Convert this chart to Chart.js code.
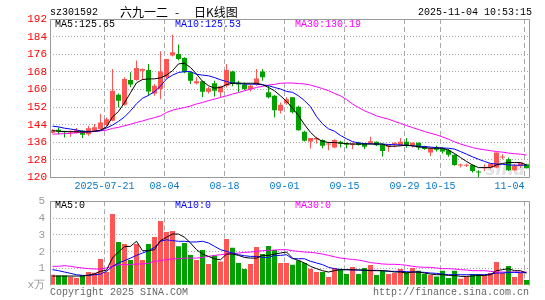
<!DOCTYPE html>
<html>
<head>
<meta charset="utf-8">
<script src="https://cdn.jsdelivr.net/npm/chart.js@4.4.1/dist/chart.umd.min.js"></script>
<style>
  html, body { margin: 0; padding: 0; background: #fff; }
  #wrap { position: relative; width: 545px; height: 300px; overflow: hidden; }
  canvas { position: absolute; left: 0; }
  #kline { top: 0; }
  #vol { top: 195px; }
</style>
</head>
<body>
<div id="wrap">
  <canvas id="kline" width="545" height="195"></canvas>
  <canvas id="vol" width="545" height="105"></canvas>
</div>
<script>
// sz301592 daily candles, 80 trading days ending 2025-11-04
const opens = [140.3,141.7,140.9,140.5,140.2,141.2,139.7,141.2,142.0,143.8,
  145.8,157.6,153.0,164.3,164.3,168.5,168.8,158.2,160.2,165.5,
  175.4,176.1,174.3,167.8,162.8,163.7,159.0,162.8,158.7,161.7,
  168.2,163.2,162.2,160.2,162.2,168.2,158.7,157.1,150.3,153.7,
  156.4,152.1,140.8,136.4,137.3,137.0,135.0,133.6,136.2,135.5,
  134.8,135.9,135.5,135.5,136.2,135.0,134.0,135.2,134.7,136.2,
  134.4,135.8,133.6,131.4,133.6,133.3,132.4,130.3,125.5,125.3,
  125.7,122.7,124.2,124.5,124.5,129.1,128.3,123.3,125.3,126.0];
const highs = [142.0,142.8,141.2,141.4,142.5,141.5,143.5,144.3,148.8,147.3,
  169.3,158.2,165.5,167.8,173.1,169.5,171.6,162.5,177.3,174.0,
  184.9,180.4,174.6,168.2,165.5,164.0,161.2,164.0,161.7,171.6,
  168.5,164.0,163.2,162.2,169.3,169.3,161.7,157.5,154.1,156.4,
  156.4,152.6,141.2,137.9,138.5,137.4,136.2,137.4,136.7,135.9,
  135.9,136.2,135.6,138.5,136.4,135.5,134.9,136.0,138.0,138.0,
  135.9,135.9,134.4,133.6,134.4,133.6,132.9,130.6,126.3,126.3,
  126.0,123.3,126.0,126.6,131.4,130.6,129.1,126.3,126.8,126.3];
const lows = [140.0,139.5,138.2,138.5,140.0,138.0,139.0,141.0,141.8,143.5,
  145.5,151.8,152.6,161.0,164.0,164.3,157.1,157.1,155.6,165.0,
  175.0,173.1,167.3,162.5,162.2,156.4,158.2,156.8,156.4,160.9,
  161.5,158.7,159.7,159.1,161.7,164.0,155.9,147.3,149.1,153.0,
  149.1,141.2,136.4,133.2,135.5,133.3,132.4,133.3,133.6,133.3,
  132.8,134.4,132.9,135.3,134.3,129.5,131.7,133.7,134.5,133.5,
  133.6,132.6,132.6,129.8,131.8,130.9,129.4,125.3,124.5,124.8,
  122.3,120.0,123.0,124.0,124.2,128.3,123.0,123.0,124.3,124.2];
const closes = [141.5,140.9,140.6,141.1,141.5,139.4,142.4,142.8,145.0,146.5,
  159.4,154.9,164.7,162.2,169.7,169.3,159.1,161.7,168.1,173.8,
  176.9,173.8,167.8,164.0,163.7,159.0,160.5,159.4,161.4,168.8,
  162.5,162.2,160.2,161.7,165.0,165.5,156.4,150.6,153.0,155.6,
  149.6,141.5,136.7,137.9,137.9,134.4,135.4,137.0,135.5,134.9,
  135.5,134.8,134.0,136.5,134.7,132.0,134.7,135.5,136.2,134.4,
  135.8,133.6,132.9,133.3,132.6,131.8,130.3,125.7,125.8,125.6,
  123.0,122.3,124.8,126.3,131.4,129.4,123.3,125.3,126.8,124.2];

// moving averages as shown on the picture
const ma5 = [141.3,141.0,140.9,140.8,140.8,140.7,140.7,141.0,141.5,143.0,
  147.5,150.0,154.0,158.5,163.0,164.5,164.8,164.8,165.3,166.5,
  168.5,171.6,171.9,170.0,167.0,163.7,161.7,160.6,160.9,162.2,
  162.8,162.8,162.8,162.8,162.8,162.2,160.9,159.4,157.1,154.6,
  151.5,148.1,144.0,140.5,137.9,136.4,135.9,135.9,135.6,135.4,
  135.2,135.2,135.2,135.2,135.2,135.2,134.2,134.2,134.4,134.7,
  134.4,133.9,133.6,133.3,133.3,133.3,132.4,130.9,129.1,127.3,
  125.7,124.5,124.5,124.5,125.7,126.4,126.8,126.8,126.8,125.65];
const ma10 = [143.3,143.0,142.4,142.0,141.6,141.0,140.9,141.0,141.3,142.5,
  143.8,145.5,147.5,150.3,153.5,156.0,157.3,159.0,161.5,164.8,
  166.5,167.7,168.1,168.1,166.9,166.5,166.2,165.4,164.4,163.6,
  162.9,162.8,162.4,162.4,162.4,162.1,161.7,160.9,160.2,159.1,
  158.7,157.1,154.9,152.2,147.7,144.4,142.1,141.0,139.1,137.6,
  136.3,135.7,135.4,135.3,135.2,135.2,135.0,134.9,134.8,134.6,
  134.4,134.2,134.1,133.8,133.6,133.4,133.3,132.9,131.8,130.6,
  129.4,128.3,127.3,126.4,126.1,126.0,125.7,125.6,125.6,125.53];
const ma30 = [139.7,139.8,139.9,140.1,140.3,140.5,140.7,140.9,141.2,141.5,
  142.3,142.8,143.5,144.2,145.0,145.7,146.5,147.2,148.0,149.5,
  150.6,151.2,151.8,152.5,153.4,154.1,154.9,155.6,156.4,157.1,
  157.9,158.6,159.4,160.1,160.9,161.4,162.0,162.3,162.8,162.9,
  162.9,162.7,162.5,162.0,161.2,160.4,159.4,158.2,157.1,155.4,
  153.4,151.8,150.3,149.2,148.0,147.2,146.5,145.5,144.6,143.6,
  142.7,141.8,140.9,140.1,139.4,138.4,137.4,136.2,135.2,134.4,
  133.6,133.0,132.6,132.2,131.8,131.5,131.1,130.8,130.6,130.19];

// volume (万手)
const volumes = [0.63,0.59,0.59,0.51,0.43,0.59,0.79,0.75,1.57,0.79,
  4.24,2.58,2.46,1.51,2.46,1.51,2.46,2.87,3.83,3.17,
  3.23,2.32,2.52,1.80,1.51,2.10,1.27,1.78,1.41,2.75,
  2.24,1.33,0.97,1.27,2.28,1.86,2.34,2.10,1.33,1.33,
  1.23,1.47,1.33,0.99,0.79,0.79,0.49,1.03,0.99,0.67,
  1.09,0.67,1.03,1.21,0.61,0.85,0.67,0.73,0.97,0.79,
  1.03,0.87,0.67,0.61,0.53,0.87,0.43,0.87,0.39,0.53,
  0.67,0.67,0.63,0.73,1.39,0.73,1.15,0.49,0.73,0.32];
const vma5 = [0.55,0.55,0.55,0.55,0.55,0.55,0.60,0.68,0.83,0.90,
  1.63,1.99,2.30,2.32,2.62,2.06,2.06,2.12,2.66,2.86,
  3.05,3.05,2.86,2.52,2.12,1.86,1.72,1.58,1.52,1.86,
  1.86,1.78,1.66,1.62,1.62,1.78,1.78,1.86,1.92,1.98,
  1.62,1.47,1.33,1.13,0.99,0.87,0.79,0.87,0.93,0.93,
  0.93,0.91,0.91,0.87,0.87,0.87,0.85,0.79,0.79,0.73,
  0.79,0.79,0.73,0.67,0.63,0.63,0.59,0.59,0.53,0.53,
  0.55,0.59,0.59,0.63,0.87,0.93,0.99,0.87,0.87,0.73];
const vma10 = [0.93,0.87,0.79,0.71,0.63,0.59,0.59,0.63,0.67,0.83,
  1.13,1.33,1.47,1.62,1.78,1.92,2.06,2.26,2.62,2.71,
  2.66,2.62,2.62,2.58,2.58,2.62,2.52,2.32,2.12,2.02,
  1.92,1.82,1.76,1.72,1.72,1.66,1.66,1.78,1.78,1.82,
  1.58,1.58,1.58,1.43,1.33,1.23,1.07,0.99,0.93,0.93,
  0.91,0.91,0.89,0.89,0.89,0.87,0.83,0.83,0.83,0.81,
  0.79,0.79,0.77,0.73,0.71,0.67,0.63,0.63,0.63,0.63,
  0.63,0.63,0.63,0.67,0.73,0.73,0.77,0.77,0.75,0.75];
const vma30 = [1.13,1.13,1.17,1.13,1.07,1.03,0.99,0.97,0.97,1.03,
  1.13,1.23,1.23,1.23,1.27,1.27,1.31,1.43,1.47,1.53,
  1.57,1.58,1.62,1.62,1.62,1.66,1.72,1.78,1.82,1.86,
  1.90,1.92,1.96,1.98,2.02,2.06,2.08,2.10,2.12,2.12,
  2.06,2.02,1.98,1.96,1.92,1.86,1.78,1.70,1.62,1.58,
  1.54,1.50,1.43,1.35,1.31,1.27,1.25,1.25,1.23,1.19,
  1.13,1.09,1.07,1.07,1.03,0.99,0.99,0.97,0.93,0.91,
  0.87,0.87,0.87,0.83,0.79,0.79,0.79,0.79,0.79,0.79];

// x ticks: candle index -> date label
const dateTickIdx = [9, 19, 29, 39, 49, 59, 65, 79];
const dateTickLabels = ['2025-07-21','08-04','08-18','09-01','09-15','09-29','10-15','11-04'];
const priceTicks = [120,128,136,144,152,160,168,176,184,192];
const volTicks = [0,1,2,3,4,5];

const RED = '#FF5555', GREEN = '#00A000', GRID = '#A8A8A8';
const MONO = '"Liberation Mono", "DejaVu Sans Mono", monospace';
const idx = closes.map((_, i) => i);
const candleColor = idx.map(i => closes[i] >= opens[i] ? RED : GREEN);
const pts = arr => arr.map((v, i) => ({ x: i, y: v }));

function dateAxis(showLabels, height) {
  return {
    type: 'linear', min: -0.4167, max: 79.4167, offset: false,
    afterBuildTicks: s => { s.ticks = dateTickIdx.map(v => ({ value: v - 0.33 })); },
    afterFit: s => { s.height = height; s.paddingLeft = 0; s.paddingRight = 0; },
    grid: { color: GRID, drawTicks: false, offset: false },
    border: { display: false, dash: [5, 3] },
    ticks: {
      display: showLabels, autoSkip: false, maxRotation: 0, padding: 3,
      color: '#0A78C8', font: { family: MONO, size: 10 },
      // last label sits flush against the right edge
      callback: (v, i) => i === dateTickLabels.length - 1 ? dateTickLabels[i] + '     ' : dateTickLabels[i]
    }
  };
}

function maLine(data, color) {
  return { type: 'line', data: pts(data), borderColor: color, borderWidth: 1,
           pointRadius: 0, tension: 0, order: 0 };
}

// frame + free texts
const framePlugin = {
  id: 'frame',
  beforeDraw(chart) {
    const c = chart.ctx;
    c.save(); c.fillStyle = '#fff'; c.fillRect(0, 0, chart.width, chart.height); c.restore();
  },
  beforeDatasetsDraw(chart, args, opts) {
    if (!opts.watermark) return;
    const c = chart.ctx;
    c.save();
    c.font = 'italic bold 17px "DejaVu Sans"';
    c.fillStyle = 'rgba(170,170,170,0.35)';
    c.textAlign = 'right'; c.textBaseline = 'alphabetic';
    c.fillText('sina', chart.chartArea.right - 4, chart.chartArea.bottom - 3);
    c.restore();
  },
  afterDatasetsDraw(chart, args, opts) {
    const { left, right, top, bottom } = chart.chartArea;
    const c = chart.ctx;
    const x0 = Math.floor(left) + 0.5, x1 = Math.floor(right) + 0.5;
    const y0 = Math.floor(top) + 0.5, y1 = Math.floor(bottom) + 0.5;
    c.save();
    c.strokeStyle = '#999'; c.lineWidth = 1;
    c.beginPath();
    c.moveTo(x0, y1); c.lineTo(x0, y0); c.lineTo(x1, y0); c.lineTo(x1, y1);
    if (opts.bottom) { c.moveTo(x0, y1); c.lineTo(x1, y1); }
    c.stroke();
    (opts.texts || []).forEach(t => {
      c.font = t.font || ('10px ' + MONO);
      c.fillStyle = t.color || '#000';
      c.textAlign = t.align || 'left';
      c.textBaseline = 'middle';
      c.fillText(t.text, t.x, t.y);
    });
    c.restore();
  }
};

const baseOptions = {
  responsive: false, animation: false, events: [],
  plugins: { legend: { display: false }, tooltip: { enabled: false } }
};

// ---- price chart ----
new Chart(document.getElementById('kline').getContext('2d'), {
  type: 'bar',
  data: {
    datasets: [
      maLine(ma5, '#000000'),
      maLine(ma10, '#0000FF'),
      maLine(ma30, '#FF00FF'),
      { data: idx.map(i => ({ x: i, y: [opens[i], closes[i]] })), backgroundColor: candleColor,
        barThickness: 5, minBarLength: 1, grouped: false, inflateAmount: 0, order: 1 },
      { data: idx.map(i => ({ x: i, y: [lows[i], highs[i]] })), backgroundColor: candleColor,
        barThickness: 1, grouped: false, inflateAmount: 0, order: 2 }
    ]
  },
  options: {
    ...baseOptions,
    layout: { padding: { top: 19, right: 16, left: 0, bottom: 0 } },
    scales: {
      x: dateAxis(true, 17.5),
      y: {
        min: 120, max: 192,
        afterBuildTicks: s => { s.ticks = priceTicks.map(v => ({ value: v })); },
        afterFit: s => { s.width = 50; s.paddingTop = 0; s.paddingBottom = 0; },
        grid: { color: GRID, drawTicks: false },
        border: { display: false, dash: [1, 2] },
        ticks: { color: '#FF0000', padding: 3, font: { family: MONO, size: 11 } }
      }
    },
    plugins: {
      ...baseOptions.plugins,
      frame: {
        bottom: true, watermark: true,
        texts: [
          { text: 'sz301592', x: 50, y: 12 },
          { text: '六九一二', x: 120, y: 12, font: '12px "Noto Sans CJK SC"' },
          { text: '-', x: 175, y: 12, font: '12px "Noto Sans CJK SC"' },
          { text: '日K线图', x: 194, y: 12, font: '12px "Noto Sans CJK SC"' },
          { text: '2025-11-04 10:53:15', x: 532, y: 12, align: 'right' },
          { text: 'MA5:' + ma5[ma5.length - 1].toFixed(2), x: 55, y: 24, color: '#000000' },
          { text: 'MA10:' + ma10[ma10.length - 1].toFixed(2), x: 175, y: 24, color: '#0000FF' },
          { text: 'MA30:' + ma30[ma30.length - 1].toFixed(2), x: 295, y: 24, color: '#FF00FF' }
        ]
      }
    }
  },
  plugins: [framePlugin]
});

// ---- volume chart ----
new Chart(document.getElementById('vol').getContext('2d'), {
  type: 'bar',
  data: {
    datasets: [
      maLine(vma5, '#000000'),
      maLine(vma10, '#0000FF'),
      maLine(vma30, '#FF00FF'),
      { data: pts(volumes), backgroundColor: candleColor, barThickness: 5,
        grouped: false, inflateAmount: 0, order: 1 }
    ]
  },
  options: {
    ...baseOptions,
    layout: { padding: { top: 6.3, right: 16, left: 0, bottom: 0 } },
    scales: {
      x: dateAxis(false, 14.7),
      y: {
        min: 0, max: 5,
        afterBuildTicks: s => { s.ticks = volTicks.map(v => ({ value: v })); },
        afterFit: s => { s.width = 50; s.paddingTop = 0; s.paddingBottom = 0; },
        grid: { color: c => c.tick && c.tick.value === 0 ? 'rgba(0,0,0,0)' : GRID, drawTicks: false },
        border: { display: false, dash: [1, 2] },
        ticks: { color: '#9A9A9A', padding: 5, font: { family: MONO, size: 11 },
                 callback: v => v === 0 ? 'x万' : v }
      }
    },
    plugins: {
      ...baseOptions.plugins,
      frame: {
        bottom: false,
        texts: [
          { text: 'MA5:0', x: 55, y: 10.5, color: '#000000' },
          { text: 'MA10:0', x: 175, y: 10.5, color: '#0000FF' },
          { text: 'MA30:0', x: 295, y: 10.5, color: '#FF00FF' },
          { text: 'Copyright 2025 SINA.COM', x: 50, y: 97, color: '#666' },
          { text: 'http://finance.sina.com.cn', x: 529, y: 97, align: 'right', color: '#666' }
        ]
      }
    }
  },
  plugins: [framePlugin]
});
</script>
</body>
</html>
